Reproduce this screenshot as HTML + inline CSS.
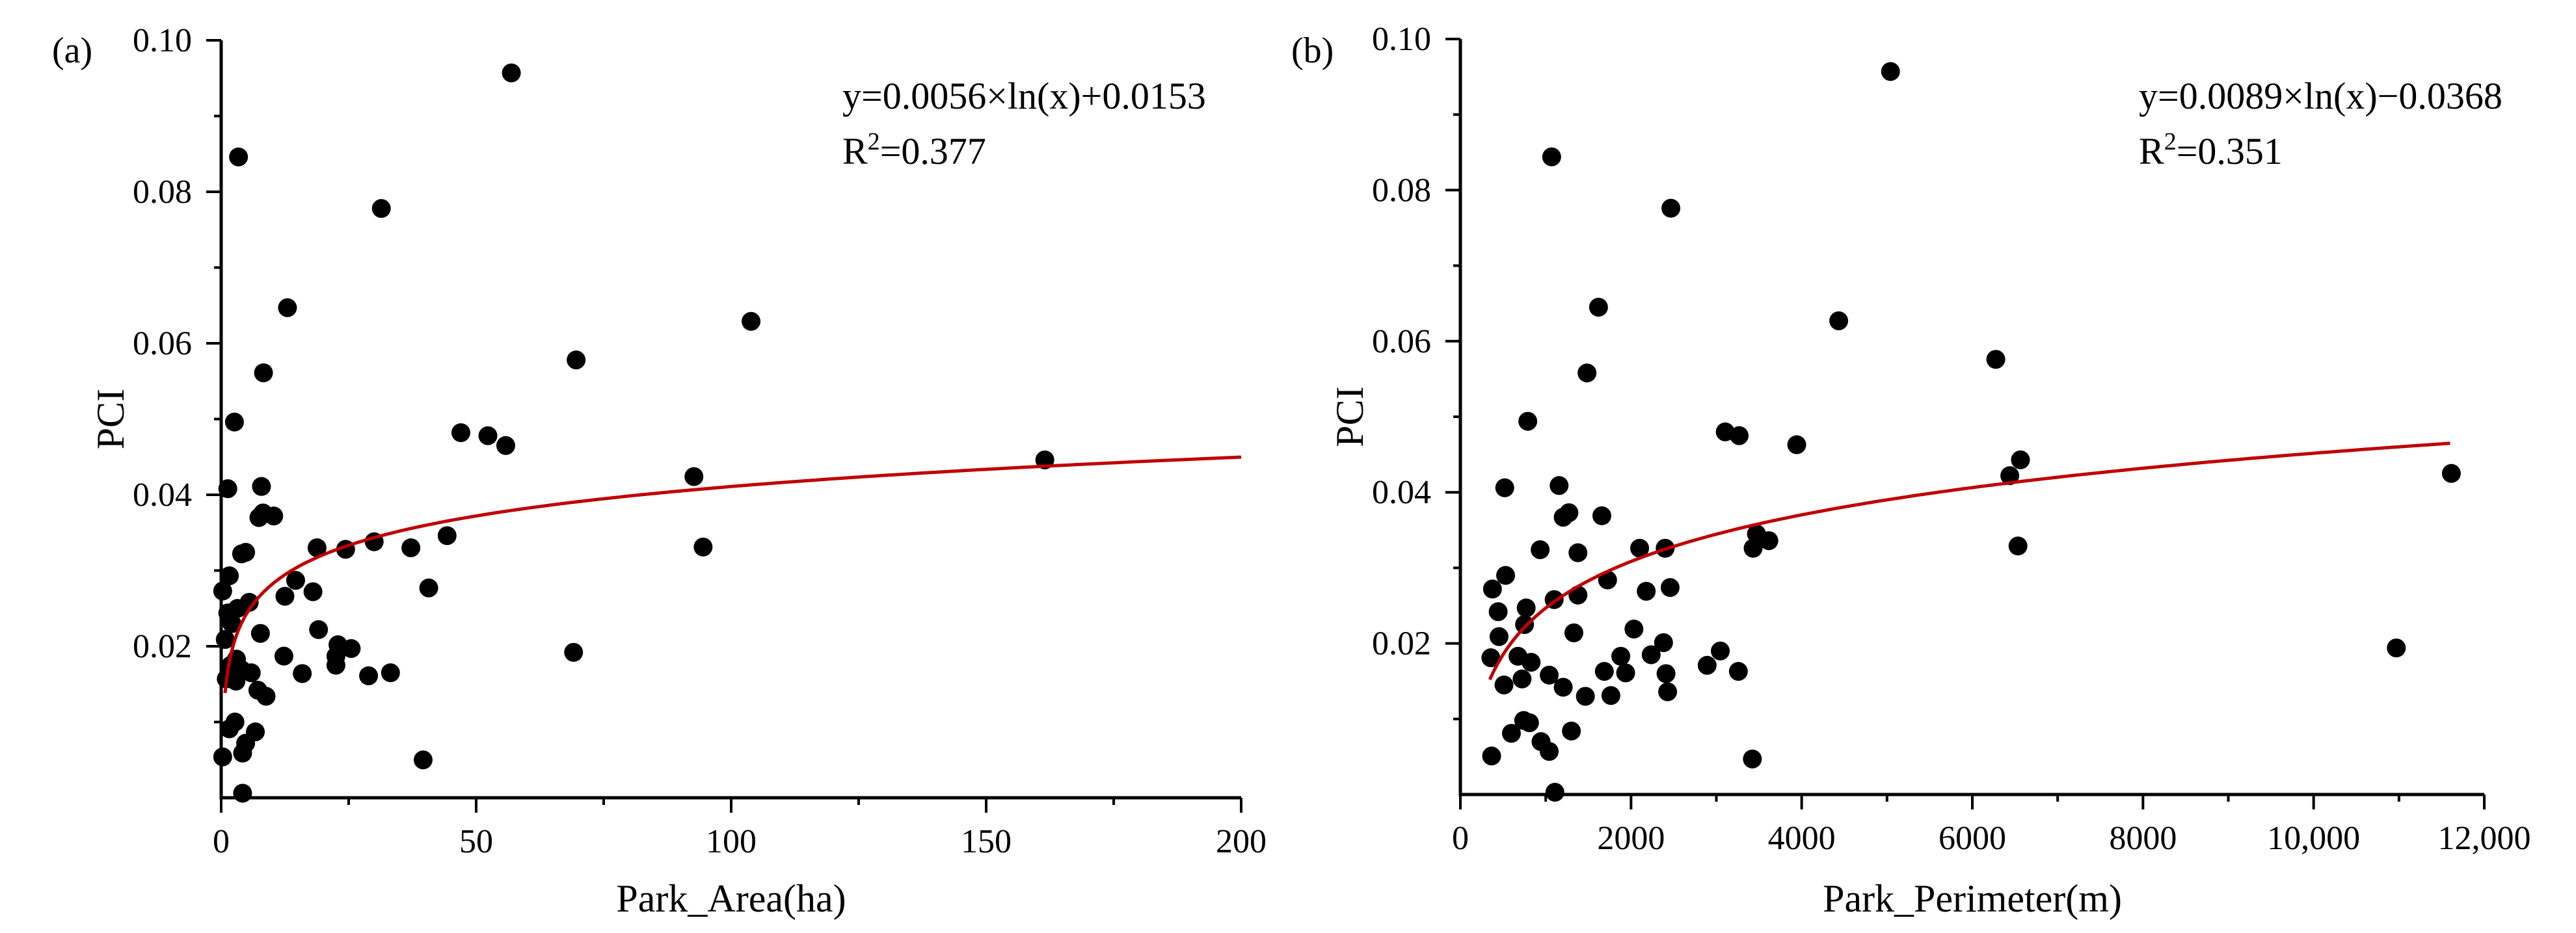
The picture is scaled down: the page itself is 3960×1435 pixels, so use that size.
<!DOCTYPE html>
<html><head><meta charset="utf-8"><style>
html,body{margin:0;padding:0;background:#fff}
svg{display:block}
text{font-family:"Liberation Serif",serif;fill:#000}
</style></head><body>
<svg id="chart" width="3960" height="1435" viewBox="0 0 3960 1435"></svg>
<script>
const areaX=[56.9,3.4,31.4,13.0,103.9,69.6,8.3,2.6,47.0,52.3,55.8,161.5,92.7,1.3,7.9,8.2,7.4,10.3,44.3,30.0,18.8,24.4,37.2,94.5,4.0,4.8,1.6,0.3,14.6,18.0,40.7,12.5,5.5,3.2,1.3,2.1,7.7,19.1,0.8,22.9,25.5,69.1,22.5,12.3,3.0,1.9,22.5,4.0,5.9,15.9,28.9,33.2,1.0,2.9,7.2,8.8,2.7,1.6,6.7,4.8,4.2,0.3,39.6,4.2];
const areaY=[0.0957,0.0846,0.0778,0.0647,0.0629,0.0578,0.0561,0.0496,0.0482,0.0478,0.0465,0.0446,0.0424,0.0408,0.0411,0.0376,0.0370,0.0372,0.0346,0.0338,0.0330,0.0328,0.0330,0.0331,0.0322,0.0324,0.0293,0.0273,0.0287,0.0272,0.0277,0.0266,0.0258,0.0250,0.0244,0.0230,0.0217,0.0222,0.0209,0.0202,0.0197,0.0192,0.0187,0.0187,0.0183,0.0175,0.0175,0.0169,0.0165,0.0164,0.0161,0.0165,0.0157,0.0154,0.0142,0.0134,0.0100,0.0091,0.0087,0.0072,0.0059,0.0054,0.0050,0.0006];
const perimX=[5041,1070,2467,1619,4434,6275,1484,790,3104,3267,3942,6564,6439,11614,520,1157,1205,1272,1658,3470,3615,3431,6535,2101,2400,935,1378,530,376,1725,2178,2458,1378,1099,771,443,752,1330,2034,453,2381,3046,10969,357,1880,2236,829,675,2892,1687,1937,2410,1041,3258,723,511,1205,2429,1465,1764,742,810,598,1301,945,1041,366,3422,1108];
const perimY=[0.0957,0.0844,0.0776,0.0645,0.0627,0.0576,0.0558,0.0494,0.0480,0.0475,0.0463,0.0443,0.0422,0.0425,0.0406,0.0409,0.0367,0.0373,0.0369,0.0345,0.0336,0.0326,0.0329,0.0326,0.0326,0.0324,0.0320,0.0290,0.0272,0.0284,0.0269,0.0274,0.0264,0.0258,0.0247,0.0242,0.0225,0.0214,0.0219,0.0209,0.0201,0.0190,0.0194,0.0181,0.0183,0.0185,0.0175,0.0183,0.0171,0.0163,0.0161,0.0160,0.0158,0.0163,0.0153,0.0145,0.0142,0.0136,0.0130,0.0131,0.0098,0.0095,0.0081,0.0084,0.0070,0.0057,0.0051,0.0047,0.0003];
const yTickVals=[0.02,0.04,0.06,0.08,0.10];
const yTickLabels=["0.02","0.04","0.06","0.08","0.10"];
const areaTickVals=[0,50,100,150,200];
const areaTickLabels=["0","50","100","150","200"];
const perimTickVals=[0,2000,4000,6000,8000,10000,12000];
const perimTickLabels=["0","2000","4000","6000","8000","10,000","12,000"];
const fitA=[0.0056,0.0153], fitB=[0.0089,-0.0368];

const svg=document.getElementById('chart');
const NS='http://www.w3.org/2000/svg';
function mk(tag,attrs,parent){const e=document.createElementNS(NS,tag);for(const k in attrs)e.setAttribute(k,attrs[k]);(parent||svg).appendChild(e);return e;}

function panel(o){
  const g=mk('g',{});
  
  
  const sx=v=>o.x0+(v-o.xmin)/(o.xmax-o.xmin)*(o.x1-o.x0);
  const sy=v=>o.y0-(v/0.1)*(o.y0-o.y1);
  // points
  const pg=mk('g',{},g);
  
  
  o.xs.forEach((v,i)=>{
    const c=mk('circle',{cx:sx(v),cy:sy(o.ys[i]),r:14.5,fill:'#000'},pg);
    
    
  });
  // fit curve
  let d='';const N=300;
  for(let i=0;i<=N;i++){const x=o.fs*Math.pow(o.fe/o.fs,i/N);const y=o.fit[0]*Math.log(x)+o.fit[1];d+=(i?'L':'M')+sx(x).toFixed(1)+','+sy(y).toFixed(1);}
  const fc=mk('path',{d:d,fill:'none',stroke:'#c00000','stroke-width':5},g);
  
  
  // axes
  const ax=mk('path',{d:`M${o.x0},${o.y1}V${o.y0}H${o.x1}`,fill:'none',stroke:'#000','stroke-width':5},g);
  
  
  // y ticks
  for(let v=0.01;v<=0.1001;v+=0.01){
    const major=Math.round(v*100)%2===0;
    mk('line',{x1:o.x0,x2:o.x0-(major?23:11),y1:sy(v),y2:sy(v),stroke:'#000','stroke-width':4},g);
  }
  yTickVals.forEach((v,i)=>{
    const t=mk('text',{x:o.x0-45,y:sy(v)+17,'font-size':52,'text-anchor':'end'},g);
    t.textContent=yTickLabels[i];
    
    
  });
  // x ticks
  for(let v=o.xmin;v<=o.xmax+1e-6;v+=o.minor){
    const major=Math.abs((v/o.major)-Math.round(v/o.major))<1e-6;
    mk('line',{x1:sx(v),x2:sx(v),y1:o.y0,y2:o.y0+(major?23:11),stroke:'#000','stroke-width':4},g);
  }
  o.xt.forEach((v,i)=>{
    const t=mk('text',{x:sx(v),y:o.y0+84,'font-size':52,'text-anchor':'middle'},g);
    t.textContent=o.xl[i];
    
    
  });
  const xt=mk('text',{x:(o.x0+o.x1)/2,y:1402,'font-size':60,'text-anchor':'middle'},g);
  xt.textContent=o.xtitle;
  
  
  const yt=mk('text',{x:0,y:0,'font-size':60,'text-anchor':'middle',transform:`translate(${o.x0-150},${(o.y0+o.y1)/2}) rotate(-90)`},g);
  yt.textContent='PCI';
  
  
  const lb=mk('text',{x:o.x0-260,y:96,'font-size':56},g);
  lb.textContent=o.label;
  
  
  const eq=mk('text',{x:o.eqx,y:167,'font-size':58},g);
  eq.textContent=o.eq;
  
  
  const r2=mk('text',{x:o.eqx,y:252,'font-size':58},g);
  
  
  const a=mk('tspan',{},r2);a.textContent='R';
  const b=mk('tspan',{dy:-22,'font-size':38},r2);b.textContent='2';
  const c=mk('tspan',{dy:22},r2);c.textContent='='+o.r2;
}

panel({name:'panel-a-area',x0:340,x1:1908,y0:1227,y1:62,xmin:0,xmax:200,minor:25,major:50,
  xs:areaX,ys:areaY,fit:fitA,fs:0.77,fe:200,xt:areaTickVals,xl:areaTickLabels,
  xtitle:'Park_Area(ha)',label:'(a)',eqx:1295,eq:'y=0.0056×ln(x)+0.0153',r2:'0.377'});
panel({name:'panel-b-perimeter',x0:2245,x1:3819,y0:1222,y1:60,xmin:0,xmax:12000,minor:1000,major:2000,
  xs:perimX,ys:perimY,fit:fitB,fs:345,fe:11600,xt:perimTickVals,xl:perimTickLabels,
  xtitle:'Park_Perimeter(m)',label:'(b)',eqx:3288,eq:'y=0.0089×ln(x)−0.0368',r2:'0.351'});
</script>
</body></html>
